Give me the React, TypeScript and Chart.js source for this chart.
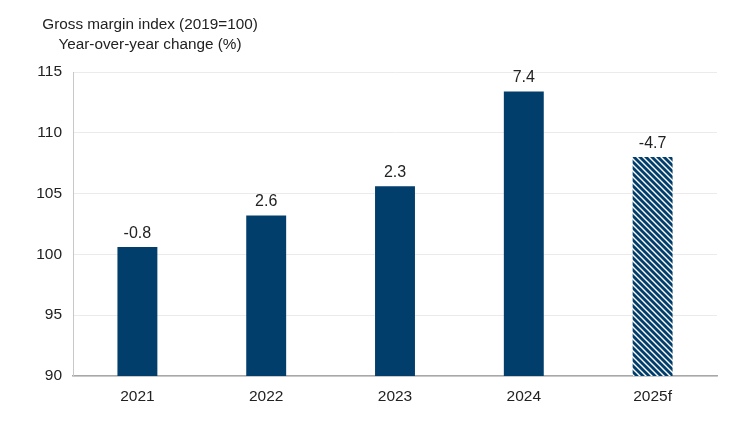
import React, { useEffect, useRef } from "react";
import { Chart, registerables } from "chart.js";

Chart.register(...registerables);

const categories = ["2021", "2022", "2023", "2024", "2025f"];
const indexValues = [100.6, 103.2, 105.6, 113.4, 108.0];
const yoyLabels = ["-0.8", "2.6", "2.3", "7.4", "-4.7"];
const titleLines = ["Gross margin index (2019=100)", "Year-over-year change (%)"];
const yTicks = [90, 95, 100, 105, 110, 115];

const NAVY = "#023E6B";
const FONT = "'Liberation Sans', Arial, sans-serif";

function makeHatch(): CanvasPattern | string {
  const size = 6;
  const c = document.createElement("canvas");
  c.width = size;
  c.height = size;
  const ctx = c.getContext("2d");
  if (!ctx) return NAVY;
  ctx.fillStyle = NAVY;
  ctx.fillRect(0, 0, size, size);
  ctx.strokeStyle = "#ffffff";
  ctx.lineWidth = 1.4;
  ctx.beginPath();
  ctx.moveTo(0, 0);
  ctx.lineTo(size, size);
  ctx.moveTo(-size, 0);
  ctx.lineTo(size, size * 2);
  ctx.moveTo(0, -size);
  ctx.lineTo(size * 2, size);
  ctx.stroke();
  const p = ctx.createPattern(c, "repeat");
  return p || NAVY;
}

export default function App() {
  const ref = useRef<HTMLCanvasElement | null>(null);

  useEffect(() => {
    document.body.style.margin = "0";
    if (!ref.current) return;
    const hatch = makeHatch();
    const colors = categories.map((c) => (c.endsWith("f") ? hatch : NAVY));

    const labelPlugin = {
      id: "labels",
      afterDatasetsDraw(chart: any) {
        const ctx = chart.ctx;
        const meta = chart.getDatasetMeta(0);
        ctx.save();
        ctx.fillStyle = "#222222";
        ctx.font = `16px ${FONT}`;
        ctx.textAlign = "center";
        ctx.textBaseline = "bottom";
        meta.data.forEach((bar: any, i: number) => {
          ctx.fillText(yoyLabels[i], bar.x, bar.y - 6);
        });
        ctx.restore();
      },
    };

    const titlePlugin = {
      id: "topTitle",
      afterDraw(chart: any) {
        const ctx = chart.ctx;
        ctx.save();
        ctx.fillStyle = "#222222";
        ctx.font = `15.3px ${FONT}`;
        ctx.textAlign = "center";
        ctx.textBaseline = "middle";
        const cx = 150;
        titleLines.forEach((t, i) => ctx.fillText(t, cx, 25 + i * 19.5));
        ctx.restore();
      },
    };

    const chart = new Chart(ref.current, {
      type: "bar",
      data: {
        labels: categories,
        datasets: [
          {
            data: indexValues,
            backgroundColor: colors as any,
            barPercentage: 0.31,
            categoryPercentage: 1,
          },
        ],
      },
      options: {
        animation: false,
        responsive: false,
        maintainAspectRatio: false,
        layout: { padding: { left: 0, right: 33, top: 72, bottom: 0 } },
        plugins: {
          legend: { display: false },
          tooltip: { enabled: false },
          title: { display: false },
        },
        scales: {
          x: {
            grid: { display: false, drawTicks: false },
            border: { display: true, color: "#a8a8a8", width: 1.5 },
            ticks: {
              color: "#222222",
              font: { family: FONT, size: 15.5 },
              padding: 11,
            },
            afterFit(scale: any) {
              scale.height = 46;
            },
          },
          y: {
            min: 90,
            max: 115,
            afterBuildTicks(scale: any) {
              scale.ticks = yTicks.map((v) => ({ value: v }));
            },
            grid: { color: "#ebebeb", drawTicks: false, lineWidth: 1 },
            border: { display: true, color: "#c8c8c8", width: 1 },
            ticks: {
              color: "#222222",
              font: { family: FONT, size: 15.5 },
              padding: 11,
            },
            afterFit(scale: any) {
              scale.width = 73;
            },
          },
        },
      },
      plugins: [labelPlugin, titlePlugin],
    });
    return () => chart.destroy();
  }, []);

  return (
    <div style={{ width: 750, height: 422, position: "relative", background: "#fff" }}>
      <canvas ref={ref} width={750} height={422} style={{ width: 750, height: 422 }} />
    </div>
  );
}
